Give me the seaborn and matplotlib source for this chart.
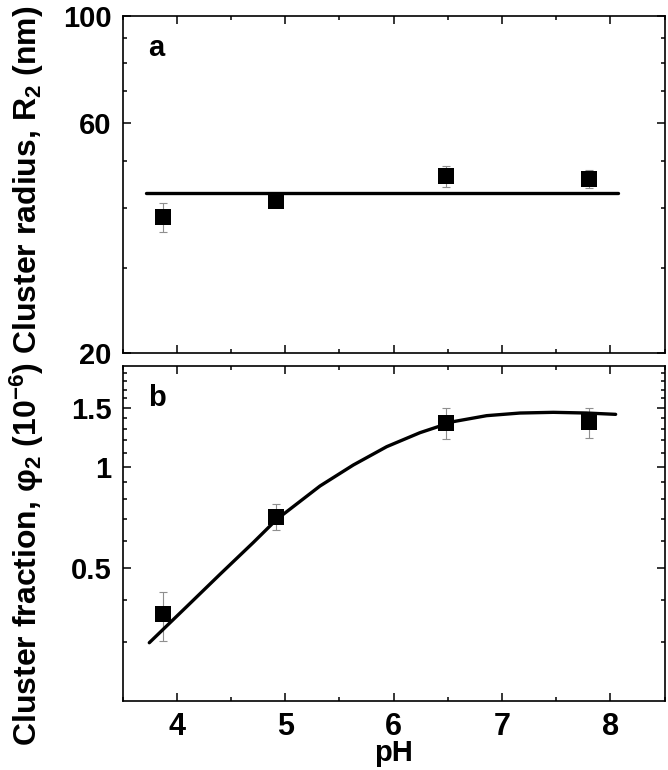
import matplotlib
matplotlib.use("Agg")
import matplotlib.pyplot as plt
import seaborn as sns
from matplotlib.ticker import FixedLocator, FixedFormatter, NullFormatter, MultipleLocator

# Measured points
ph = [3.87, 4.92, 6.48, 7.80]
radius = [38.3, 41.3, 46.5, 46.0]
radius_err = [2.6, 1.0, 2.4, 2.0]
fraction = [0.362, 0.709, 1.354, 1.361]
fraction_err = [0.060, 0.063, 0.140, 0.140]

# Fit curves
radius_fit_ph = [3.72, 8.07]
radius_fit = [42.9, 42.9]
fraction_fit_ph = [3.747, 4.092, 4.399, 4.707, 4.922, 5.322, 5.629, 5.937,
                   6.244, 6.552, 6.859, 7.167, 7.474, 7.782, 8.049]
fraction_fit = [0.298, 0.382, 0.477, 0.594, 0.696, 0.876, 1.012, 1.148,
                1.264, 1.364, 1.421, 1.447, 1.454, 1.447, 1.434]

sns.set_theme(style="ticks", rc={'text.color': 'black', 'axes.labelcolor': 'black',
                                 'xtick.color': 'black', 'ytick.color': 'black'})
plt.rcParams['font.family'] = ['Liberation Sans', 'DejaVu Sans']
plt.rcParams['font.weight'] = 'bold'
plt.rcParams['mathtext.fontset'] = 'custom'
plt.rcParams['mathtext.rm'] = 'Liberation Sans:bold'
plt.rcParams['mathtext.bf'] = 'Liberation Sans:bold'
plt.rcParams['mathtext.it'] = 'Liberation Sans:bold'
plt.rcParams['mathtext.default'] = 'bf'

fig = plt.figure(figsize=(6.68, 7.70), dpi=100)
ax1 = fig.add_axes([0.1834, 0.5416, 0.8114, 0.4377])
ax2 = fig.add_axes([0.1834, 0.0900, 0.8114, 0.4347])

# Panel a: cluster radius
ax1.errorbar(ph, radius, yerr=radius_err, fmt='none', ecolor='#8f8f8f',
             elinewidth=0.8, capsize=3, capthick=0.8, zorder=2)
sns.lineplot(x=radius_fit_ph, y=radius_fit, ax=ax1, color='black', linewidth=2.4, zorder=3)
sns.scatterplot(x=ph, y=radius, ax=ax1, marker='s', s=130, color='black',
                linewidth=0, zorder=4)

# Panel b: cluster fraction
ax2.errorbar(ph, fraction, yerr=fraction_err, fmt='none', ecolor='#8f8f8f',
             elinewidth=0.8, capsize=3, capthick=0.8, zorder=2)
sns.lineplot(x=fraction_fit_ph, y=fraction_fit, ax=ax2, color='black', linewidth=2.4,
             sort=False, zorder=3)
sns.scatterplot(x=ph, y=fraction, ax=ax2, marker='s', s=130, color='black',
                linewidth=0, zorder=4)

for ax in (ax1, ax2):
    ax.set_xlim(3.5, 8.5)
    ax.set_yscale('log')
    ax.xaxis.set_major_locator(MultipleLocator(1))
    ax.xaxis.set_minor_locator(MultipleLocator(0.5))
    ax.tick_params(which='both', direction='in', top=True, right=True,
                   width=1.1, color='black')
    ax.tick_params(which='major', length=5.5, pad=8)
    ax.tick_params(which='minor', length=3.1)
    ax.tick_params(axis='y', labelsize=21)
    ax.tick_params(axis='x', labelsize=22)
    for sp in ax.spines.values():
        sp.set_linewidth(1.2)
        sp.set_color('black')
    ax.set_ylabel('')
    ax.set_xlabel('')

ax1.set_ylim(20, 100)
ax1.yaxis.set_major_locator(FixedLocator([20, 60, 100]))
ax1.yaxis.set_major_formatter(FixedFormatter(['20', '60', '100']))
ax1.yaxis.set_minor_locator(FixedLocator([30, 40, 50, 70, 80, 90]))
ax1.yaxis.set_minor_formatter(NullFormatter())
ax1.tick_params(labelbottom=False)

ax2.set_ylim(0.2, 2)
ax2.yaxis.set_major_locator(FixedLocator([0.5, 1, 1.5]))
ax2.yaxis.set_major_formatter(FixedFormatter(['0.5', '1', '1.5']))
ax2.yaxis.set_minor_locator(FixedLocator([0.3, 0.4, 0.6, 0.7, 0.8, 0.9, 1.1, 1.2,
                                          1.3, 1.4, 1.6, 1.7, 1.8, 1.9]))
ax2.yaxis.set_minor_formatter(NullFormatter())
ax2.set_xlabel('pH', fontsize=21, fontweight='bold', labelpad=-2)

ax1.text(0.047, 0.88, 'a', transform=ax1.transAxes, fontsize=21, fontweight='bold')
ax2.text(0.047, 0.88, 'b', transform=ax2.transAxes, fontsize=21, fontweight='bold')

fig.text(0.040, 0.5123,
         'Cluster fraction, φ$_2$ (10$^{-6}$) Cluster radius, R$_2$ (nm)',
         rotation=90, ha='center', va='center', fontsize=23, fontweight='bold')

fig.savefig('out.png', dpi=100)
